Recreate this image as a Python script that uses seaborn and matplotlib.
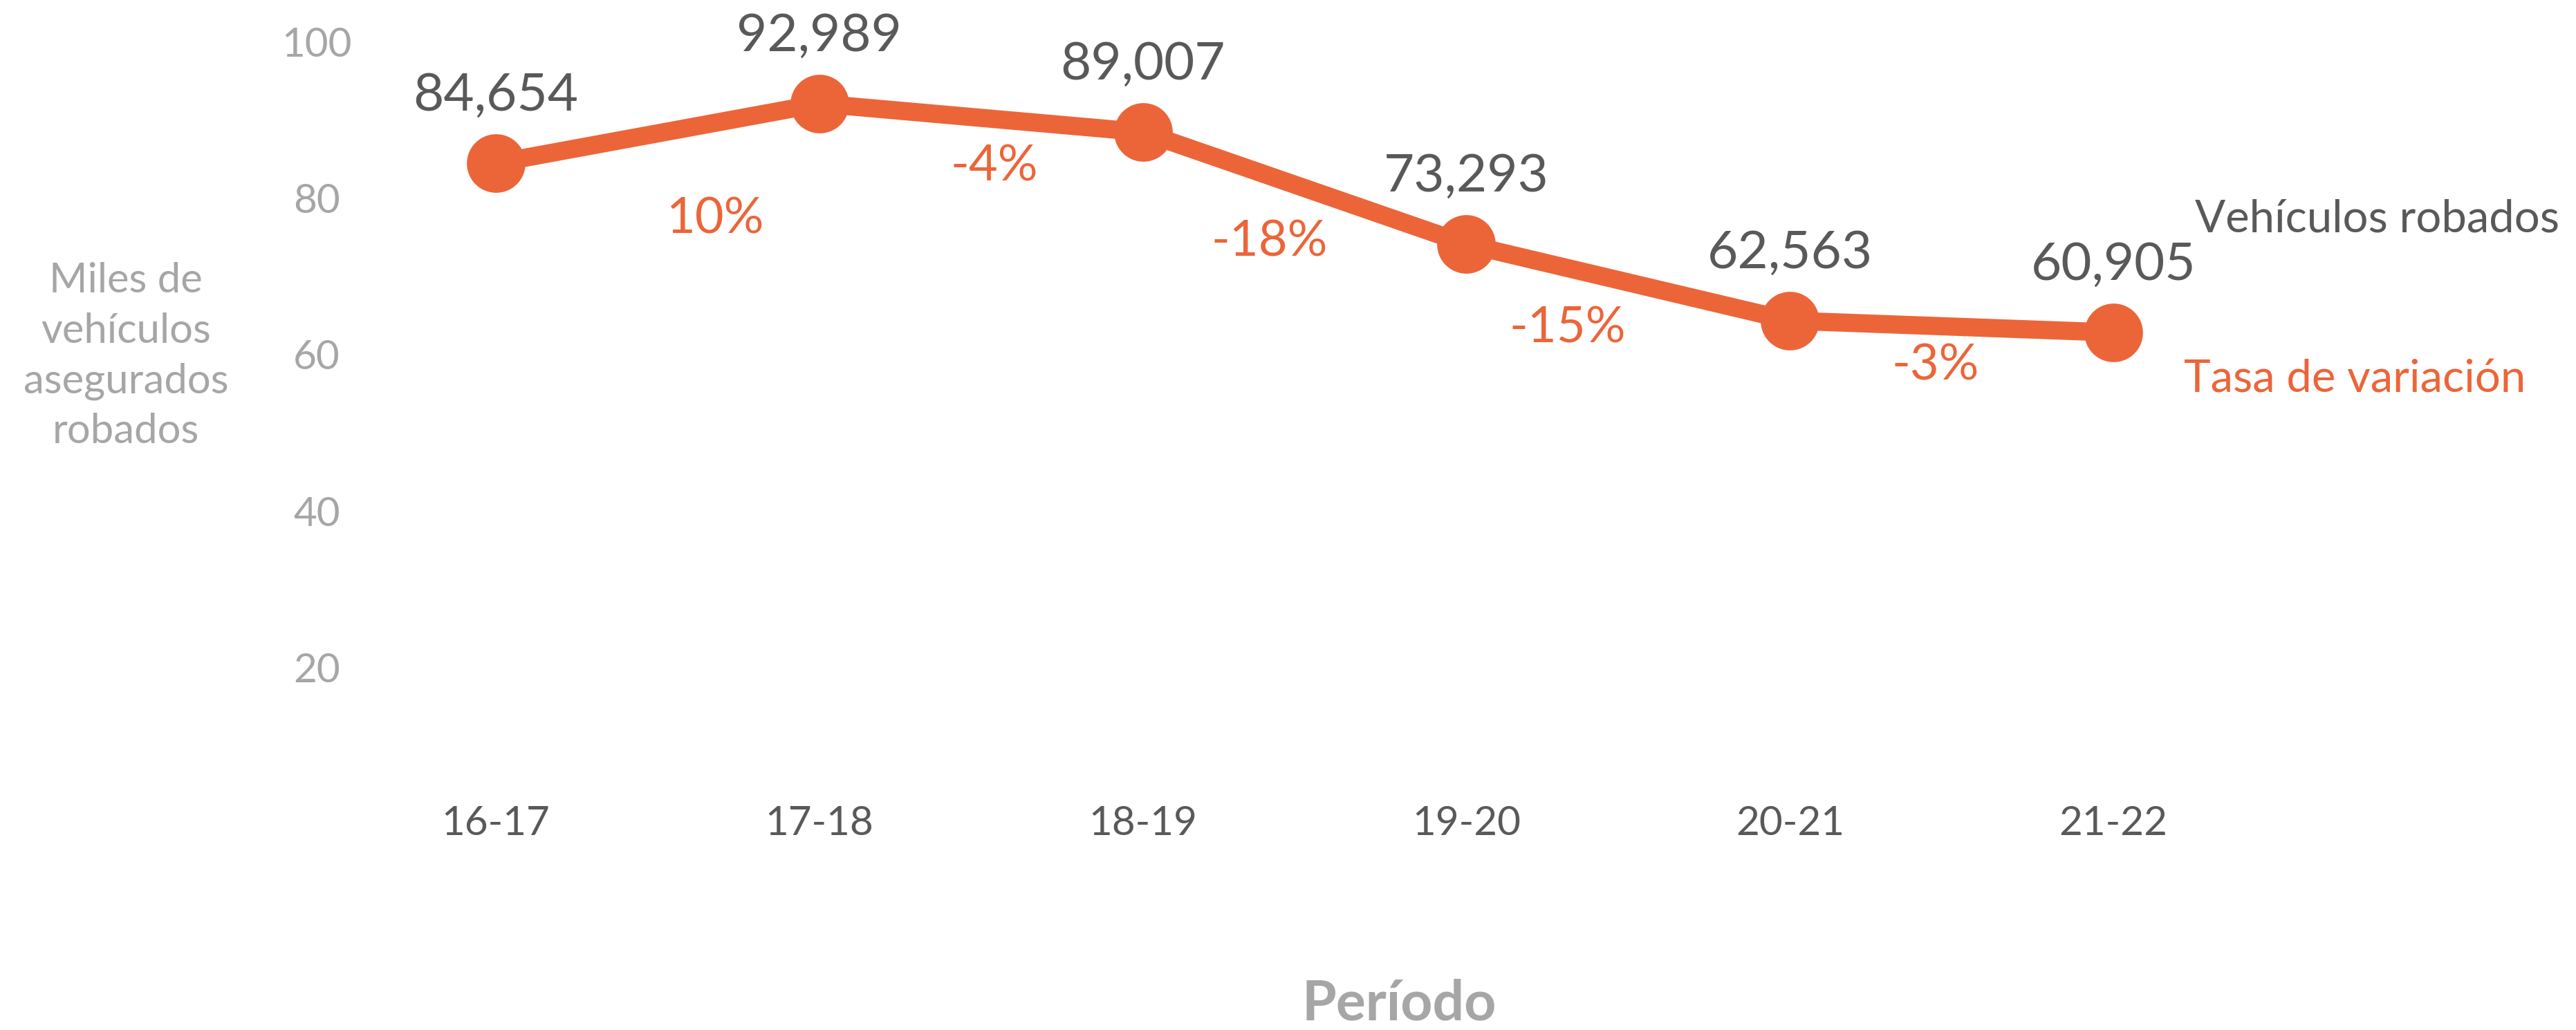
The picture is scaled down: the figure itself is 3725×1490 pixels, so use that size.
import numpy as np
import pandas as pd
import seaborn as sns
import matplotlib
import matplotlib.pyplot as plt
matplotlib.use('Agg')

# datos
periodos = ['16-17', '17-18', '18-19', '19-20', '20-21', '21-22']
vehiculos = [84654, 92989, 89007, 73293, 62563, 60905]
tasas = [10, -4, -18, -15, -3]
yticks = [20, 40, 60, 80, 100]

# ajustes de las etiquetas de tasa (puntos)
tasa_nudge = [(60, -89), (14, -51), (-37, -56), (-63, -48), (-17, -41)]

naranja = '#EC6539'
gris_osc = '#595959'
gris_cl = '#A6A6A6'


def main():
    sns.set_style('white')
    plt.rcParams['font.family'] = ['Lato', 'DejaVu Sans']

    fig = plt.figure(figsize=(37.25, 14.9), dpi=100)
    ax = fig.add_axes([0.1297, 0.2, 0.854, 0.7597])
    ax2 = ax.twinx()

    df = pd.DataFrame({'x': np.arange(len(periodos)),
                       'miles': np.array(vehiculos) / 1000})
    sns.lineplot(data=df, x='x', y='miles', ax=ax2, color=naranja,
                 linewidth=19, marker='o', markersize=61,
                 markeredgewidth=0, solid_capstyle='butt')

    ax.set_xlim(-0.5, 6.3)
    ax.set_ylim(0, 100)
    ax2.set_ylim(-8.0, 101.7)

    ax.set_yticks(yticks)
    ax.set_xticks(df['x'])
    ax.set_xticklabels(periodos)
    ax.tick_params(axis='y', length=0, pad=18, labelsize=42, labelcolor=gris_cl)
    ax.tick_params(axis='x', length=0, pad=0, labelsize=42, labelcolor=gris_osc)
    for t in ax.get_yticklabels():
        t.set_ha('center')
    for t in ax.get_xticklabels():
        t.set_va('center')
    ax2.set_yticks([])
    ax2.set_ylabel('')
    ax2.set_xlabel('')
    for a in (ax, ax2):
        for s in a.spines.values():
            s.set_visible(False)

    ax.set_ylabel('Miles de\nvehículos\nasegurados\nrobados', rotation=0,
                  fontsize=43, color=gris_cl, ha='center', va='center',
                  linespacing=1.42)
    ax.yaxis.set_label_coords(-0.0946, 0.598)
    ax.set_xlabel('Período', fontsize=58, fontweight='bold', color=gris_cl,
                  va='center')
    ax.xaxis.set_label_coords(0.484, -0.23)

    # etiquetas de valor
    for i, v in enumerate(df['miles']):
        ax2.annotate(f'{vehiculos[i]:,}', (i, v), xytext=(0, 55),
                     textcoords='offset points', ha='center', va='baseline',
                     fontsize=55, color=gris_osc)

    # tasas de variacion
    for i, t in enumerate(tasas):
        xm = i + 0.5
        ym = (df['miles'][i] + df['miles'][i + 1]) / 2
        ax2.annotate(f'{t}%', (xm, ym), xytext=tasa_nudge[i],
                     textcoords='offset points', ha='center', va='center',
                     fontsize=52, color=naranja)

    ax.text(0.846, 0.757, 'Vehículos robados', transform=ax.transAxes,
            fontsize=47, color=gris_osc, ha='left', va='baseline')
    ax.text(0.841, 0.552, 'Tasa de variación', transform=ax.transAxes,
            fontsize=47, color=naranja, ha='left', va='baseline')

    fig.savefig('out.png', dpi=100, facecolor='white')


if __name__ == '__main__':
    main()
